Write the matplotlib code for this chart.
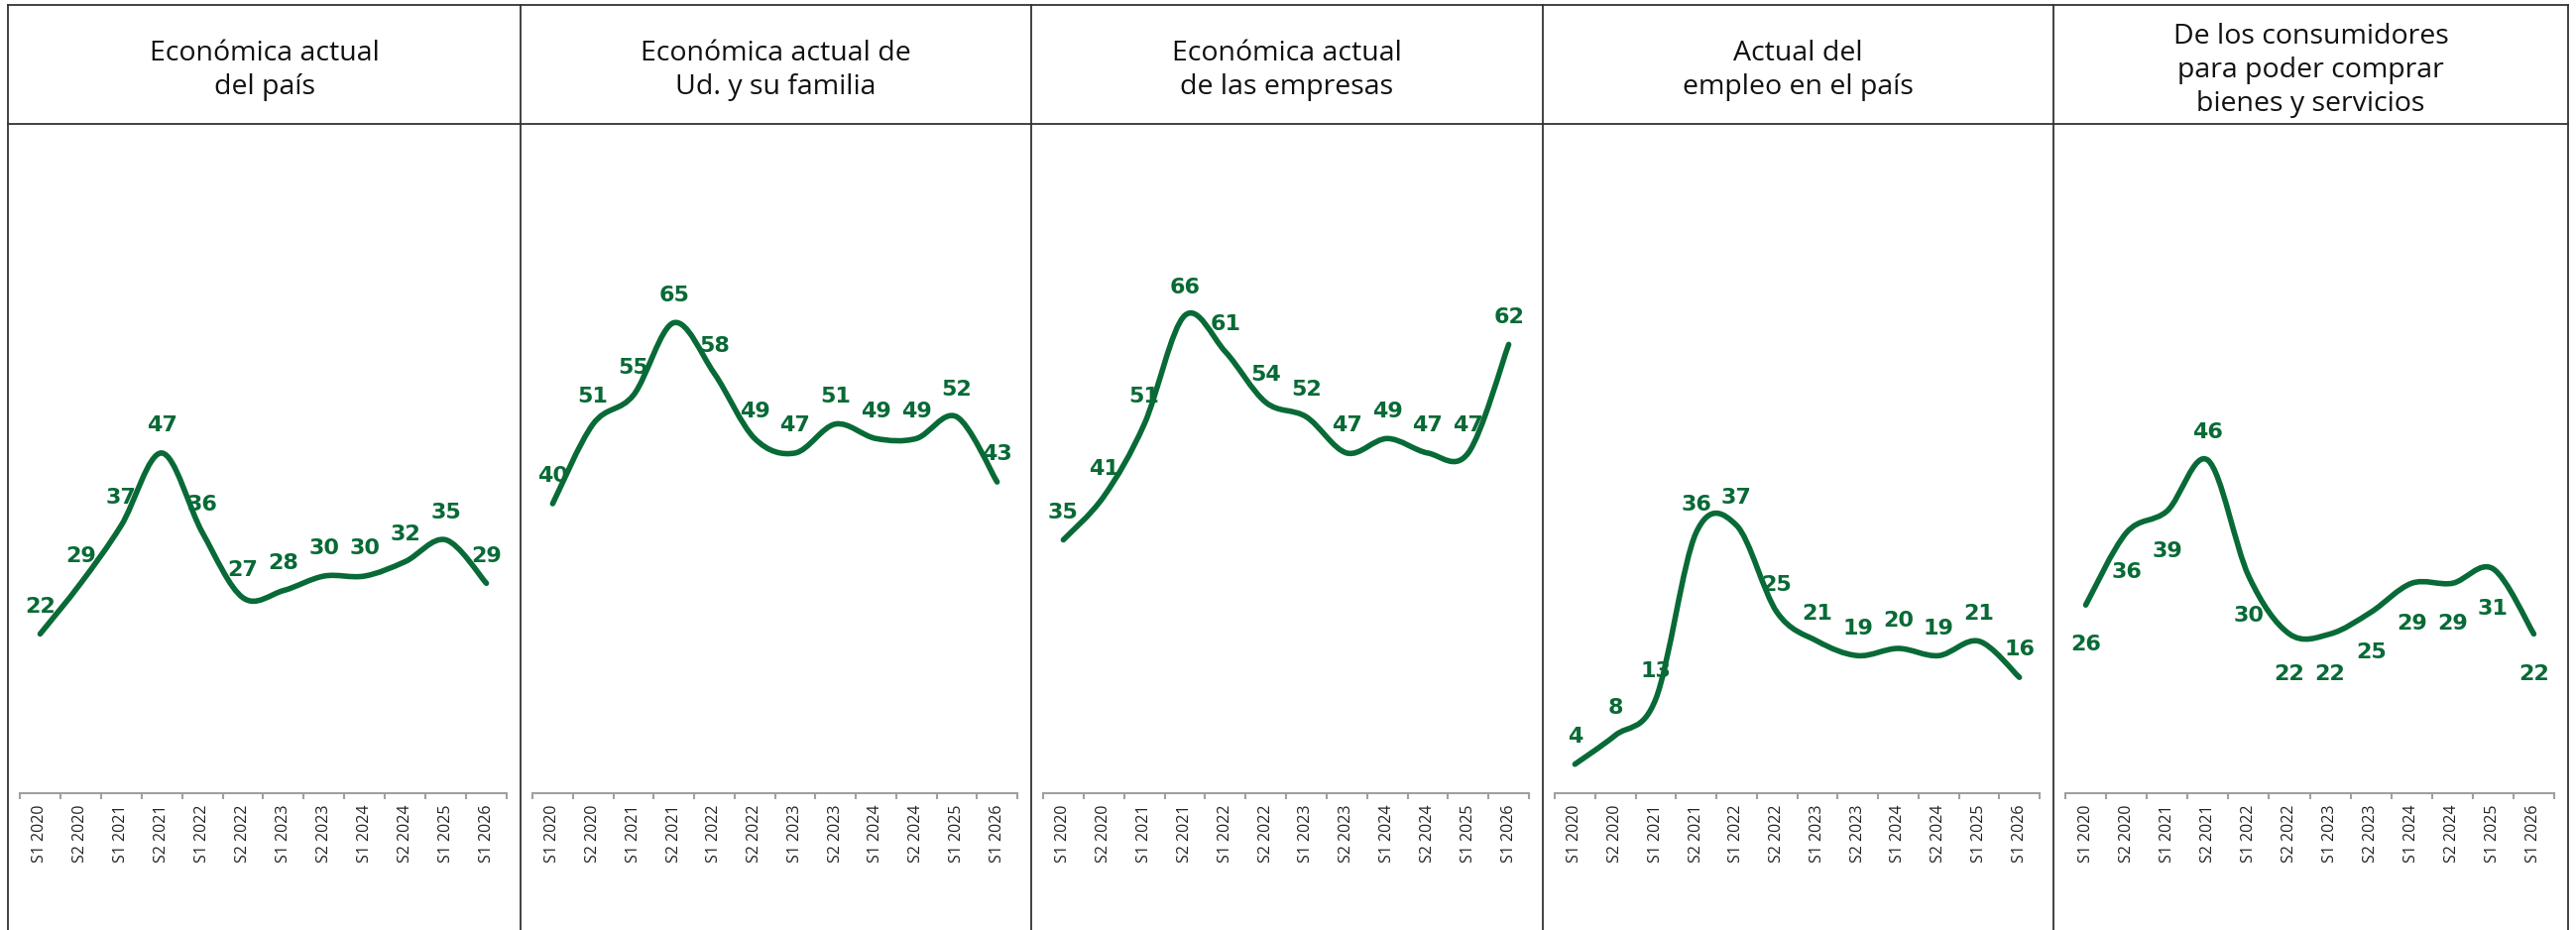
import numpy as np
import matplotlib
matplotlib.use("Agg")
import matplotlib.pyplot as plt
from matplotlib.path import Path
from matplotlib.patches import PathPatch
from matplotlib.lines import Line2D

periods = ["S1 2020", "S2 2020", "S1 2021", "S2 2021", "S1 2022", "S2 2022",
           "S1 2023", "S2 2023", "S1 2024", "S2 2024", "S1 2025", "S1 2026"]

titles = [
    "Económica actual\ndel país",
    "Económica actual de\nUd. y su familia",
    "Económica actual\nde las empresas",
    "Actual del\nempleo en el país",
    "De los consumidores\npara poder comprar\nbienes y servicios",
]

pais = [22, 29, 37, 47, 36, 27, 28, 30, 30, 32, 35, 29]
familia = [40, 51, 55, 65, 58, 49, 47, 51, 49, 49, 52, 43]
empresas = [35, 41, 51, 66, 61, 54, 52, 47, 49, 47, 47, 62]
empleo = [4, 8, 13, 36, 37, 25, 21, 19, 20, 19, 21, 16]
consumidores = [26, 36, 39, 46, 30, 22, 22, 25, 29, 29, 31, 22]

series = [pais, familia, empresas, empleo, consumidores]
# where each data label sits: a = above the point, b = below
label_side = ["aaaaaaaaaaaa", "aaaaaaaaaaaa", "aaaaaaaaaaaa", "aaaaaaaaaaaa",
              "bbbabbbbbbbb"]

GREEN = "#086a36"
W, H = 2598, 938


def smooth_path(xs, ys):
    # excel-style smoothed line: catmull-rom segments as cubic beziers
    p = np.column_stack([xs, ys]).astype(float)
    ext = np.vstack([p[0], p, p[-1]])
    verts = [p[0]]
    codes = [Path.MOVETO]
    for i in range(len(p) - 1):
        p0, p1, p2, p3 = ext[i], ext[i + 1], ext[i + 2], ext[i + 3]
        verts += [p1 + (p2 - p0) / 6, p2 - (p3 - p1) / 6, p2]
        codes += [Path.CURVE4] * 3
    return Path(verts, codes)


def fx(px):
    return px / W


def fy(py):
    return 1 - py / H


fig = plt.figure(figsize=(W / 100, H / 100), dpi=100)

edges = [8, 525, 1040, 1556, 2071, 2590]
top_line, head_line, axis_y = 5, 125, 800
ymax = (axis_y - head_line) / 7.3

# frame lines
for xe in edges:
    fig.add_artist(Line2D([fx(xe), fx(xe)], [fy(top_line), 0], color="#333333", lw=1.3))
for ye in (top_line, head_line):
    fig.add_artist(Line2D([fx(edges[0]), fx(edges[-1])], [fy(ye), fy(ye)], color="#333333", lw=1.3))

for k, vals in enumerate(series):
    left, right = edges[k] + 12, edges[k + 1] - 14
    ax = fig.add_axes([fx(left), fy(axis_y), fx(right - left), (axis_y - head_line) / H])
    x = np.arange(len(periods))
    ax.set_xlim(-0.5, len(periods) - 0.5)
    ax.set_ylim(0, ymax)
    ax.add_patch(PathPatch(smooth_path(x, vals), fill=False, edgecolor=GREEN,
                           lw=4, capstyle="round", joinstyle="round"))
    for xi, v, side in zip(x, vals, label_side[k]):
        off = 20 if side == "a" else -29
        ax.annotate(str(v), (xi, v), xytext=(0, off), textcoords="offset points",
                    ha="center", va="center", color=GREEN, fontsize=16,
                    fontweight="bold", family="DejaVu Sans")

    for s in ("left", "right", "top"):
        ax.spines[s].set_visible(False)
    ax.spines["bottom"].set_color("#a0a0a0")
    ax.spines["bottom"].set_linewidth(1.5)
    ax.set_yticks([])
    ax.set_xticks(x)
    ax.set_xticklabels(periods, rotation=90, fontsize=11.5, color="#222222", family="Open Sans")
    ax.tick_params(axis="x", which="major", length=0, pad=8)
    ax.set_xticks(np.arange(-0.5, len(periods)), minor=True)
    ax.tick_params(axis="x", which="minor", length=4, width=1.5, color="#a0a0a0")
    ax.patch.set_alpha(0)

    cx = (edges[k] + edges[k + 1]) / 2
    fig.text(fx(cx), fy(71), titles[k], ha="center", va="center",
             fontsize=20.5, family="Open Sans", color="#111111", linespacing=1.27)

fig.savefig("out.png", dpi=100, facecolor="white")
